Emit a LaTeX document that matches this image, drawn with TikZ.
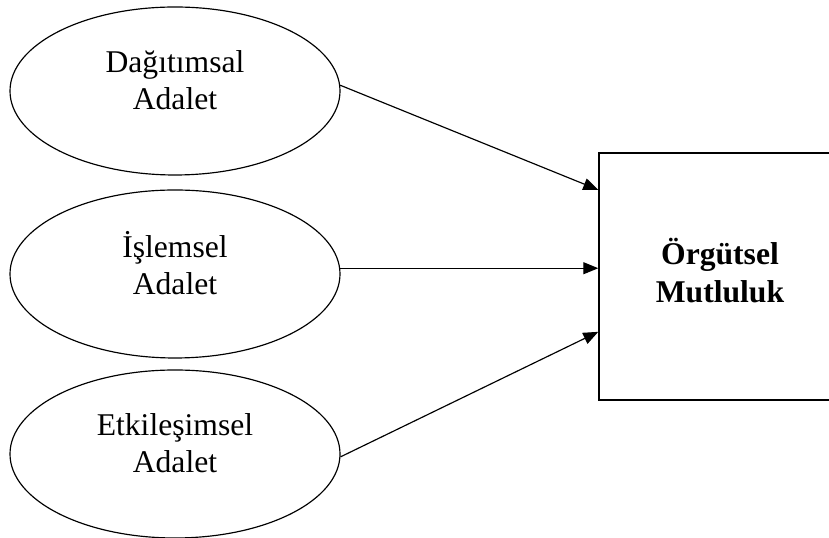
\documentclass[tikz,border=0pt]{standalone}
\usepackage{fontspec}
\setmainfont{Liberation Serif}
\usetikzlibrary{shapes.geometric,arrows.meta}

\begin{document}
\begin{tikzpicture}[
  oval/.style={draw,ellipse,line width=1pt,minimum width=9.9cm,minimum height=5.04cm,align=center,text depth=0.65cm,font=\fontsize{27}{32}\selectfont},
  outcome/.style={draw,rectangle,line width=1.2pt,minimum width=7.26cm,minimum height=7.41cm,align=center,text depth=0.36cm,font=\fontsize{27}{32}\selectfont\bfseries},
  link/.style={-{Triangle[length=0.45cm,width=0.36cm]},line width=1pt}]
  \useasboundingbox (0,0) rectangle (24.87,16.14);
  \node[oval] (dagitim) at (5.25,13.41) {Dağıtımsal\\Adalet};
  \node[oval] (islem) at (5.25,7.92) {İşlemsel\\Adalet};
  \node[oval] (etkilesim) at (5.25,2.52) {Etkileşimsel\\Adalet};
  \node[outcome] (mutluluk) at (21.6,7.845) {Örgütsel\\Mutluluk};
  \draw[link] (dagitim.2) -- ([yshift=2.6cm]mutluluk.west);
  \draw[link] (islem.2.5) -- (islem.2.5 -| mutluluk.west);
  \draw[link] (etkilesim.-1) -- ([yshift=-1.66cm]mutluluk.west);
\end{tikzpicture}
\end{document}
